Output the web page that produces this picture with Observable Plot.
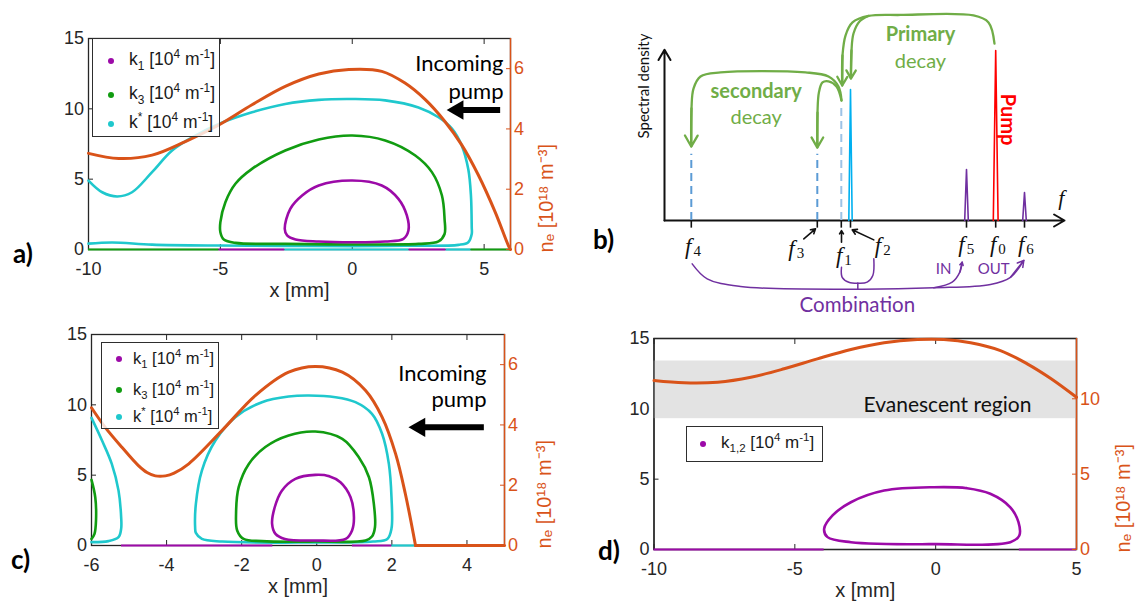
<!DOCTYPE html>
<html>
<head>
<meta charset="utf-8">
<script src="https://cdn.jsdelivr.net/npm/d3@7"></script>
<script src="https://cdn.jsdelivr.net/npm/@observablehq/plot@0.6"></script>
<style>
  html, body { margin: 0; padding: 0; background: #fff; }
  body { position: relative; width: 1140px; height: 605px; overflow: hidden; font-family: "Liberation Sans", Arial, sans-serif; }
  .layer { position: absolute; }
  .layer svg { display: block; overflow: visible; }
  .lgbox { position: absolute; box-sizing: border-box; background: rgba(255,255,255,0.8); border: 1.6px solid #2e2e2e; }
  .lgtext { position: absolute; white-space: nowrap; color: #1a1a1a; line-height: 1; }
  .lgtext sub, .lgtext sup { font-size: 0.68em; line-height: 0; }
  .lgtext sub { vertical-align: -0.38em; }
  .lgtext sup { vertical-align: 0.62em; }
  .lgdot { position: absolute; width: 6px; height: 6px; border-radius: 50%; }
  .tag { position: absolute; font-family: Lato, "Open Sans", sans-serif; font-weight: 700; font-size: 26px; color: #000; line-height: 1; }
</style>
</head>
<body>
<script>
// ---------------- colours ----------------
const ORANGE = "#d95319", CYAN = "#1fc8cd", GREEN = "#119c11", PURPLE = "#9c0aa8", INK = "#262626";
const BGREEN = "#70ad47", BPURPLE = "#7030a0";

// ---------------- panel a data ----------------
const xTicksA = [-10, -5, 0, 5];
const kTicks = [0, 5, 10, 15];
const neTicksA = [0, 2, 4, 6];
const k1A = [[0,4.9],[1.12,4.55],[1.75,3.6],[2.07,2.42],[2.13,1.35],[1.94,0.76],[1.25,0.57],[0,0.52],[-1.27,0.57],[-2.15,0.71],[-2.47,1.0],[-2.56,1.47],[-2.35,2.89],[-1.9,3.84],[-1.27,4.55]];
const k3A = [[0,8.1],[1.25,7.75],[2.39,6.68],[3.02,5.5],[3.4,3.84],[3.5,2.17],[3.5,1.1],[3.27,0.57],[2.51,0.4],[0,0.36],[-2.54,0.4],[-4.43,0.47],[-4.87,0.71],[-5.0,1.23],[-5.0,1.94],[-4.81,3.36],[-4.43,4.67],[-3.8,5.73],[-2.54,7.04],[-1.27,7.82]];
const kStarA = [[-10,4.9],[-9.48,4.07],[-8.91,3.77],[-8.35,4.07],[-7.59,5.5],[-6.83,7.04],[-5.95,8.1],[-5.06,8.93],[-3.8,9.76],[-2.54,10.35],[-1.27,10.64],[0,10.7],[1.25,10.6],[2.51,10.1],[3.27,9.4],[3.78,8.6],[4.15,7.4],[4.4,5.7],[4.5,3.84],[4.53,1.6],[4.53,1.1],[4.4,0.52],[4.03,0.33],[2,0.27],[0,0.24],[-2.5,0.26],[-5.06,0.28],[-7.59,0.35],[-9.1,0.5],[-10,0.42]];
const neA = [[-10,3.19],[-8.85,3.02],[-7.59,3.13],[-6.33,3.58],[-5.06,4.13],[-3.8,4.8],[-2.54,5.41],[-1.27,5.82],[-0.13,5.97],[1.12,5.91],[2.0,5.52],[2.77,4.97],[3.52,4.24],[4.15,3.47],[4.78,2.47],[5.42,1.24],[5.92,0.13],[6,0]];
const k1ZeroA = [[-5.05,-2.56],[2.16,3.55]];
const k3ZeroA = [[-10,-5.05],[4.5,6]];
const kStarZeroA = [[-2.56,2.16],[3.55,4.5]];

// ---------------- panel c data ----------------
const xTicksC = [-6, -4, -2, 0, 2, 4];
const neTicksC = [0, 2, 4, 6];
const k1C = [[-0.04,5.02],[0.33,4.93],[0.63,4.5],[0.9,3.43],[0.99,2.01],[0.94,1.07],[0.77,0.47],[-0.04,0.36],[-0.85,0.47],[-1.1,0.83],[-1.19,1.54],[-1.12,2.72],[-0.93,3.9],[-0.57,4.74]];
const k3C = [[-0.04,8.1],[0.68,7.58],[1.12,6.27],[1.39,4.85],[1.52,2.96],[1.55,1.3],[1.47,0.64],[1.3,0.36],[-0.04,0.28],[-1.46,0.31],[-1.95,0.47],[-2.12,1.07],[-2.15,2.25],[-2.08,4.15],[-1.81,5.8],[-1.37,7.0],[-0.75,7.82]];
const k3EdgeC = [[-6,4.67],[-5.9,3.43],[-5.88,1.78],[-5.92,0.83],[-6,0.47]];
const kStarC = [[-0.21,10.66],[0.5,10.54],[1.03,10.19],[1.47,9.36],[1.74,7.94],[1.92,5.8],[1.99,3.43],[1.99,1.2],[1.88,0.47],[1.5,0.28],[-0.21,0.21],[-2.52,0.28],[-3.06,0.47],[-3.22,0.9],[-3.24,1.3],[-3.22,2.96],[-3.06,5.33],[-2.7,7.46],[-2.17,9.12],[-1.46,10.19],[-0.75,10.59]];
const kStarEdgeC = [[-6,9.07],[-5.72,7.46],[-5.46,5.8],[-5.28,3.9],[-5.21,2.0],[-5.21,1.2],[-5.28,0.59],[-5.55,0.31],[-6,0.24]];
const neC = [[-6,4.57],[-5.64,3.93],[-5.19,3.26],[-4.75,2.65],[-4.52,2.42],[-4.3,2.31],[-4.03,2.31],[-3.8,2.4],[-3.41,2.71],[-2.52,3.82],[-1.63,4.98],[-0.75,5.75],[-0.04,5.94],[0.68,5.75],[1.3,5.14],[1.74,4.26],[2.1,3.04],[2.36,1.71],[2.63,0]];
const neFlatC = [[2.63,0],[5,0]];
const k1ZeroC = [[-5.2,-1.17],[0.95,2.0]];
const kStarZeroC = [[2.0,2.63]];

// ---------------- panel d data ----------------
const xTicksD = [-10, -5, 0, 5];
const neTicksD = [0, 5, 10];
const k12D = [[-0.06,4.43],[1.11,4.36],[1.94,3.96],[2.65,3.0],[2.94,1.94],[2.97,1.0],[2.65,0.52],[0,0.38],[-3.01,0.52],[-3.84,0.88],[-3.96,1.47],[-3.66,2.42],[-3.01,3.36],[-1.83,4.19]];
const neD = [[-10,11.21],[-8.93,11.06],[-7.74,11.1],[-6.56,11.43],[-5.38,11.99],[-4.2,12.65],[-3.01,13.27],[-1.83,13.72],[-0.65,13.93],[0.29,13.93],[1.24,13.72],[2.3,13.2],[3.25,12.32],[4.1,11.33],[5,10.1]];
const k12ZeroD = [[-10,-3.96],[2.97,5]];
const evanescentBand = [[9.3, 13.4]];

// ---------------- panel b data (schematic spectrum) ----------------
const peakNames = ["f4","f3","f1","f2","f5","f0","f6"];
const peakFreq  = [6.7, 38.2, 44.2, 46.5, 75.5, 82.8, 90];
const peakLevel = [3.9, 3.9, 6.8, 7.7, 3.0, 10, 1.65];
const peakLabelX = [6.7, 32.5, 44.4, 54.1, 75, 82.9, 89.9];
const peakLabelY = [-1.52, -1.65, -2.06, -1.47, -1.41, -1.41, -1.41];
const primaryOuter = [[82.5,10.41],[81,11.65],[77.25,12.06],[59,12.09],[51,12.03],[47,11.65],[45.25,10.88],[44.5,9.71],[44.43,7.94]];
const primaryInner = [[51,12.03],[48.75,11.71],[47.25,11],[46.75,10],[46.6,8.35]];
const secondaryToF4 = [[44.25,7.06],[43.5,7.88],[41,8.47],[35.25,8.71],[14,8.71],[9,8.47],[7.25,7.76],[6.75,6.59],[6.68,4.35]];
const secondaryToF3 = [[44.25,7.06],[43,7.88],[41,8.18],[39.5,8.12],[38.6,7.53],[38.25,6.35],[38.2,4.29]];
const comboMain = [[6.92,-2.55],[10.67,-3.43],[19,-3.88],[48.17,-4.04],[67.33,-3.96],[81.5,-3.76],[86.5,-3.34],[89.83,-2.35]];
const comboIn = [[67.33,-3.96],[71.92,-3.63],[73.83,-3.04],[74.42,-2.45]];
const braceF1 = [[44.25,-2.75],[44.42,-3.34],[46.08,-3.63],[48.33,-3.69]];
const braceF2 = [[52.33,-2.25],[52.08,-3.24],[50.67,-3.63],[48.33,-3.69]];
const braceStem = [[48.33,-3.69],[48.33,-4.04]];
const labelArrows = [[34.83,-1.08,37.75,-0.49],[44.25,-1.28,44.25,-0.59],[52.33,-1.14,46.92,-0.55]];

// ---------------- helpers ----------------
const X = d => d[0], Y = d => d[1];
const LW = 2.6, OW = 3;
const baseStyle = {background: "transparent", overflow: "visible", fontFamily: '"Liberation Sans", Arial, sans-serif', fontSize: "18px", color: INK};

function place(el, left, top) {
  const d = document.createElement("div");
  d.className = "layer";
  d.style.left = left + "px"; d.style.top = top + "px";
  d.appendChild(el);
  document.body.appendChild(d);
}

function kPlot({width, height, m, xDomain, xTicks, marks}) {
  return Plot.plot({
    width, height, marginLeft: m[0], marginRight: m[1], marginTop: m[2], marginBottom: m[3],
    x: {domain: xDomain}, y: {domain: [0, 15]},
    style: baseStyle,
    marks: [
      Plot.frame({stroke: INK, strokeWidth: 1.3}),
      Plot.axisX({ticks: xTicks, tickFormat: d => String(d), tickSize: -5, tickPadding: 17.5, label: null, stroke: INK, fill: INK}),
      Plot.axisX({anchor: "top", ticks: xTicks, tickSize: -5, fill: "none", label: null, stroke: INK}),
      Plot.axisY({ticks: kTicks, tickFormat: d => String(d), tickSize: -5, tickPadding: 9.5, label: null, stroke: INK, fill: INK}),
      Plot.text(["x [mm]"], {frameAnchor: "bottom", dy: 47, fontSize: 20, fill: INK}),
      ...marks
    ]
  });
}

function nePlot({width, height, m, xDomain, yDomain, neTicks, labelDx, marks}) {
  return Plot.plot({
    width, height, marginLeft: m[0], marginRight: m[1], marginTop: m[2], marginBottom: m[3],
    x: {domain: xDomain, axis: null}, y: {domain: yDomain},
    style: baseStyle,
    marks: [
      ...marks,
      Plot.ruleX([xDomain[1]], {stroke: ORANGE, strokeWidth: 1.4}),
      Plot.axisY({anchor: "right", ticks: neTicks, tickFormat: d => String(d), tickSize: -5, tickPadding: 8.5, label: null, stroke: ORANGE, fill: ORANGE}),
      Plot.text(["nₑ [10¹⁸ m⁻³]"], {frameAnchor: "right", dx: labelDx, rotate: -90, fill: ORANGE, fontSize: 20})
    ]
  });
}

function zeroRules(segs, color) {
  return Plot.ruleY(segs, {x1: X, x2: Y, y: 0, stroke: color, strokeWidth: 2.2});
}

function pumpMarks(tail, tip, level, dxText, dy1, dy2) {
  return [
    Plot.text(["Incoming"], {frameAnchor: "top-right", dx: dxText, dy: dy1, textAnchor: "end", fontFamily: "Lato", fontSize: 22, fill: "#000"}),
    Plot.text(["pump"], {frameAnchor: "top-right", dx: dxText, dy: dy2, textAnchor: "end", fontFamily: "Lato", fontSize: 22, fill: "#000"}),
    Plot.link([[tail, tip, level]], {x1: d => d[0], x2: d => d[1], y1: d => d[2], y2: d => d[2], stroke: "#000", strokeWidth: 6, dx: 6}),
    Plot.dot([[tip, level]], {x: X, y: Y, symbol: "triangle", r: 7.2, rotate: -90, fill: "#000", dx: 10.9})
  ];
}

function legend(box, items, fs) {
  const b = document.createElement("div");
  b.className = "lgbox";
  Object.assign(b.style, {left: box[0] + "px", top: box[1] + "px", width: box[2] + "px", height: box[3] + "px"});
  document.body.appendChild(b);
  for (const it of items) {
    const dot = document.createElement("div");
    dot.className = "lgdot";
    Object.assign(dot.style, {left: (it.dx - 3) + "px", top: (it.cy - 3) + "px", background: it.color});
    document.body.appendChild(dot);
    const t = document.createElement("div");
    t.className = "lgtext";
    t.innerHTML = it.label;
    Object.assign(t.style, {left: it.tx + "px", top: (it.cy - fs * 0.5 - 1) + "px", fontSize: fs + "px"});
    document.body.appendChild(t);
  }
}

function tag(text, left, top) {
  const t = document.createElement("div");
  t.className = "tag"; t.textContent = text;
  t.style.left = left + "px"; t.style.top = top + "px";
  document.body.appendChild(t);
}

const LBL_K1 = 'k<sub>1</sub> [10<sup>4</sup> m<sup>-1</sup>]';
const LBL_K3 = 'k<sub>3</sub> [10<sup>4</sup> m<sup>-1</sup>]';
const LBL_KS = 'k<sup>*</sup> [10<sup>4</sup> m<sup>-1</sup>]';
const LBL_K12 = 'k<sub>1,2</sub> [10<sup>4</sup> m<sup>-1</sup>]';

// ================= Panel a =================
const domA = [-10, 6];
const mA = [88, 50, 38, 56];
place(kPlot({width: 560, height: 305, m: mA, xDomain: domA, xTicks: xTicksA, marks: [
  zeroRules(k3ZeroA, GREEN), zeroRules(kStarZeroA, CYAN), zeroRules(k1ZeroA, PURPLE),
  Plot.line(kStarA, {x: X, y: Y, curve: "catmull-rom", stroke: CYAN, strokeWidth: LW}),
  Plot.line(k3A, {x: X, y: Y, curve: "catmull-rom-closed", stroke: GREEN, strokeWidth: LW}),
  Plot.line(k1A, {x: X, y: Y, curve: "catmull-rom-closed", stroke: PURPLE, strokeWidth: LW})
]}), 0, 0);
place(nePlot({width: 560, height: 305, m: mA, xDomain: domA, yDomain: [0, 7], neTicks: neTicksA, labelDx: 36, marks: [
  Plot.line(neA, {x: X, y: Y, curve: "catmull-rom", stroke: ORANGE, strokeWidth: OW}),
  ...pumpMarks(5.38, 3.59, 4.63, -7, 17, 45)
]}), 0, 0);
legend([92, 38, 128, 99], [
  {label: LBL_K1, color: PURPLE, cy: 61, dx: 111, tx: 129},
  {label: LBL_K3, color: GREEN, cy: 95, dx: 111, tx: 129},
  {label: LBL_KS, color: CYAN, cy: 124, dx: 111, tx: 129}
], 17.5);
tag("a)", 13, 240);

// ================= Panel c =================
const domC = [-6, 5];
const mC = [91, 56, 29, 60];
place(kPlot({width: 560, height: 300, m: mC, xDomain: domC, xTicks: xTicksC, marks: [
  zeroRules(k1ZeroC, PURPLE), zeroRules(kStarZeroC, CYAN),
  Plot.line(kStarEdgeC, {x: X, y: Y, curve: "catmull-rom", stroke: CYAN, strokeWidth: LW}),
  Plot.line(kStarC, {x: X, y: Y, curve: "catmull-rom-closed", stroke: CYAN, strokeWidth: LW}),
  Plot.line(k3EdgeC, {x: X, y: Y, curve: "catmull-rom", stroke: GREEN, strokeWidth: LW}),
  Plot.line(k3C, {x: X, y: Y, curve: "catmull-rom-closed", stroke: GREEN, strokeWidth: LW}),
  Plot.line(k1C, {x: X, y: Y, curve: "catmull-rom-closed", stroke: PURPLE, strokeWidth: LW})
]}), 0, 305);
place(nePlot({width: 560, height: 300, m: mC, xDomain: domC, yDomain: [0, 7], neTicks: neTicksC, labelDx: 40, marks: [
  Plot.line(neC, {x: X, y: Y, curve: "catmull-rom", stroke: ORANGE, strokeWidth: OW}),
  Plot.line(neFlatC, {x: X, y: Y, stroke: ORANGE, strokeWidth: OW}),
  ...pumpMarks(4.29, 2.45, 3.92, -18, 31, 57)
]}), 0, 305);
legend([101, 342, 118, 87], [
  {label: LBL_K1, color: PURPLE, cy: 359, dx: 119, tx: 133},
  {label: LBL_K3, color: GREEN, cy: 390, dx: 119, tx: 133},
  {label: LBL_KS, color: CYAN, cy: 417, dx: 119, tx: 133}
], 16.5);
tag("c)", 11, 546);

// ================= Panel d =================
const domD = [-10, 5];
const mD = [93.5, 64, 33, 56];
place(kPlot({width: 580, height: 300, m: mD, xDomain: domD, xTicks: xTicksD, marks: [
  Plot.rect(evanescentBand, {x1: () => domD[0], x2: () => domD[1], y1: X, y2: Y, fill: "#e3e3e3"}),
  Plot.frame({stroke: INK, strokeWidth: 1.3}),
  zeroRules(k12ZeroD, PURPLE),
  Plot.line(k12D, {x: X, y: Y, curve: "catmull-rom-closed", stroke: PURPLE, strokeWidth: LW})
]}), 560, 305);
place(nePlot({width: 580, height: 300, m: mD, xDomain: domD, yDomain: [0, 14], neTicks: neTicksD, labelDx: 47, marks: [
  Plot.line(neD, {x: X, y: Y, curve: "catmull-rom", stroke: ORANGE, strokeWidth: OW}),
  Plot.text(["Evanescent region"], {frameAnchor: "top-left", dx: 863 - 653.5, dy: 59, textAnchor: "start", fontFamily: "Lato", fontSize: 21, fill: "#111"})
]}), 560, 305);
legend([686, 426, 137, 36], [
  {label: LBL_K12, color: PURPLE, cy: 443.5, dx: 703, tx: 721}
], 17);
tag("d)", 598, 537);

// ================= Panel b =================
const peaks = peakNames.map((name, i) => ({name, f: peakFreq[i], h: peakLevel[i], lx: peakLabelX[i], ly: peakLabelY[i]}));
const dashColor = {f4: "#5b9bd5", f3: "#5b9bd5", f1: "#9dc3e6"};
const spikeColor = {f2: "#00b0f0", f5: BPURPLE, f0: "#ff0000", f6: BPURPLE};
const spikeHalf = {f2: 0.42, f5: 0.45, f0: 0.6, f6: 0.45};
const dashed = peaks.filter(p => p.name in dashColor);
const spikes = peaks.filter(p => p.name in spikeColor);
const lastSeg = arr => [[...arr[arr.length - 2], ...arr[arr.length - 1]]];
const seg = {x1: d => d[0], y1: d => d[1], x2: d => d[2], y2: d => d[3]};
const LATO = "Lato";

const bMarks = [
  Plot.arrow([[0, 0, 100, 0], [0, 0, 0, 10.05]], {...seg, stroke: "#111", strokeWidth: 2, headLength: 9}),
  Plot.ruleX(peaks, {x: "f", y1: 0, y2: -0.45, stroke: "#111", strokeWidth: 1.6}),
  Plot.ruleX(dashed, {x: "f", y1: 0, y2: "h", stroke: d => dashColor[d.name], strokeWidth: 2, strokeDasharray: "8,5"}),
  ...spikes.map(p => Plot.line([[p.f - spikeHalf[p.name], 0], [p.f, p.h], [p.f + spikeHalf[p.name], 0]], {x: X, y: Y, stroke: spikeColor[p.name], strokeWidth: 1.6})),
  ...[primaryOuter, primaryInner, secondaryToF4, secondaryToF3].flatMap(arc => [
    Plot.line(arc, {x: X, y: Y, curve: "catmull-rom", stroke: BGREEN, strokeWidth: 2.3}),
    Plot.arrow(lastSeg(arc), {...seg, stroke: BGREEN, strokeWidth: 2.3, headLength: 10})
  ]),
  ...[comboMain, comboIn, braceF1, braceF2, braceStem].map(c => Plot.line(c, {x: X, y: Y, curve: "catmull-rom", stroke: BPURPLE, strokeWidth: 1.5})),
  Plot.arrow(lastSeg(comboMain), {...seg, stroke: BPURPLE, strokeWidth: 1.5, headLength: 7}),
  Plot.arrow(lastSeg(comboIn), {...seg, stroke: BPURPLE, strokeWidth: 1.5, headLength: 7}),
  Plot.arrow(labelArrows, {...seg, stroke: "#111", strokeWidth: 1.6, headLength: 5}),
  Plot.text(peaks, {x: "lx", y: "ly", text: () => "f", dx: -3, fontFamily: '"Liberation Serif", serif', fontStyle: "italic", fontSize: 23, fill: "#111"}),
  Plot.text(peaks, {x: "lx", y: "ly", text: d => d.name.slice(1), dx: 6, dy: 5, fontFamily: '"Liberation Serif", serif', fontSize: 15, fill: "#111"}),
  Plot.text(["f"], {x: 99.2, y: 1.3, fontFamily: '"Liberation Serif", serif', fontStyle: "italic", fontSize: 22, fill: "#111"}),
  Plot.text(["Spectral density"], {frameAnchor: "left", dx: -20, dy: 3, rotate: -90, fontFamily: LATO, fontSize: 15, fill: "#111"}),
  Plot.text(["secondary"], {x: 22.9, y: 7.6, fontFamily: LATO, fontWeight: "bold", fontSize: 20, fill: BGREEN}),
  Plot.text(["decay"], {x: 22.9, y: 6.04, fontFamily: LATO, fontSize: 20, fill: BGREEN}),
  Plot.text(["Primary"], {x: 64, y: 10.94, fontFamily: LATO, fontWeight: "bold", fontSize: 20, fill: BGREEN}),
  Plot.text(["decay"], {x: 64, y: 9.37, fontFamily: LATO, fontSize: 20, fill: BGREEN}),
  Plot.text(["Pump"], {x: 85.75, y: 5.94, rotate: 90, fontFamily: LATO, fontWeight: "bold", fontSize: 20, fill: "#ff0000"}),
  Plot.text(["Combination"], {x: 48.2, y: -5.0, fontFamily: LATO, fontSize: 20.5, fill: BPURPLE}),
  Plot.text(["IN"], {x: 69.8, y: -2.88, fontFamily: LATO, fontSize: 15, fill: BPURPLE}),
  Plot.text(["OUT"], {x: 82.3, y: -2.88, fontFamily: LATO, fontSize: 15, fill: BPURPLE})
];
place(Plot.plot({
  width: 580, height: 305, marginLeft: 104, marginRight: 76, marginTop: 50, marginBottom: 85,
  x: {domain: [0, 100], axis: null}, y: {domain: [0, 10], axis: null},
  style: baseStyle,
  marks: bMarks
}), 560, 0);
tag("b)", 593, 226);
</script>
</body>
</html>
